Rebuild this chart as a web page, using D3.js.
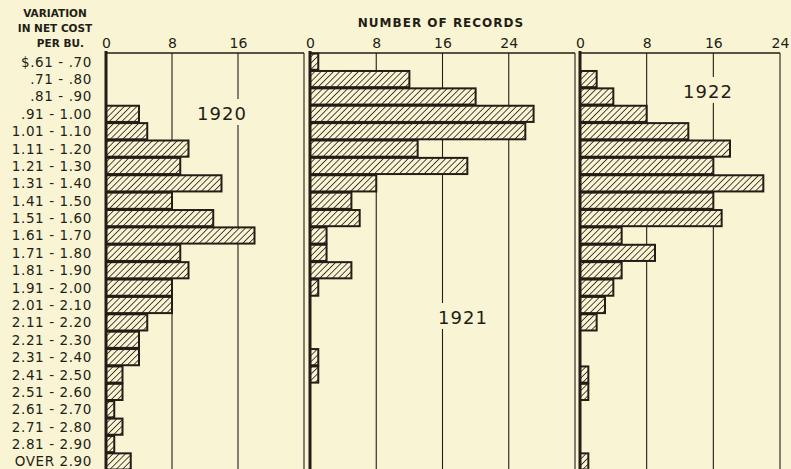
<!DOCTYPE html>
<html>
<head>
<meta charset="utf-8">
<script src="https://cdn.jsdelivr.net/npm/d3@7"></script>
<style>
  body { margin: 0; background: #f9f5d4; }
  svg { display: block; }
  text { font-family: "DejaVu Sans", sans-serif; fill: #231d16; }
</style>
</head>
<body>
<svg id="chart" width="791" height="469"></svg>
<script>
// cost ranges (rows), top to bottom
const ranges = ["$.61 - .70", ".71 - .80", ".81 - .90", ".91 - 1.00", "1.01 - 1.10", "1.11 - 1.20",
  "1.21 - 1.30", "1.31 - 1.40", "1.41 - 1.50", "1.51 - 1.60", "1.61 - 1.70", "1.71 - 1.80",
  "1.81 - 1.90", "1.91 - 2.00", "2.01 - 2.10", "2.11 - 2.20", "2.21 - 2.30", "2.31 - 2.40",
  "2.41 - 2.50", "2.51 - 2.60", "2.61 - 2.70", "2.71 - 2.80", "2.81 - 2.90", "OVER 2.90"];

const records1920 = [0, 0, 0, 4, 5, 10, 9, 14, 8, 13, 18, 9, 10, 8, 8, 5, 4, 4, 2, 2, 1, 2, 1, 3];
const records1921 = [1, 12, 20, 27, 26, 13, 19, 8, 5, 6, 2, 2, 5, 1, 0, 0, 0, 1, 1, 0, 0, 0, 0, 0];
const records1922 = [0, 2, 4, 8, 13, 18, 16, 22, 16, 17, 5, 9, 5, 4, 3, 2, 0, 0, 1, 1, 0, 0, 0, 1];

const years = ["1920", "1921", "1922"];
const gridTicks24 = [8, 16, 24];
const gridTicks32 = [8, 16, 24, 32];
const labels1920 = [0, 8, 16];
const labelsWide = [0, 8, 16, 24];

let ink = "#231d16";
let bg = "#f9f5d4";
let topY = 53, rowH = 17.38;

let svg = d3.select("#chart");

// hatch pattern
let defs = svg.append("defs");
let pat = defs.append("pattern")
    .attr("id", "hatch")
    .attr("patternUnits", "userSpaceOnUse")
    .attr("width", 4.4).attr("height", 4.4)
    .attr("patternTransform", "rotate(45)");
pat.append("rect").attr("width", 4.4).attr("height", 4.4).attr("fill", bg);
pat.append("line").attr("x1", 0).attr("y1", 0).attr("x2", 0).attr("y2", 4.4)
    .attr("stroke", ink).attr("stroke-width", 1.6);

let y = d3.scaleBand()
    .domain(ranges)
    .range([topY, topY + ranges.length * rowH]);

let panels = [
    {data: records1920, year: years[0], max: 24, grid: gridTicks24, labels: labels1920, range: [106, 304], label: [222, 113]},
    {data: records1921, year: years[1], max: 32, grid: gridTicks32, labels: labelsWide, range: [310, 575], label: [463, 317]},
    {data: records1922, year: years[2], max: 24, grid: gridTicks24, labels: labelsWide, range: [580, 780], label: [708, 91]}
];

for (let p of panels) {
    let x = d3.scaleLinear().domain([0, p.max]).range(p.range);
    let g = svg.append("g");

    // grid lines + right border
    g.selectAll("line.grid")
        .data(p.grid)
        .enter().append("line")
        .attr("class", "grid")
        .attr("x1", d => x(d)).attr("x2", d => x(d))
        .attr("y1", topY).attr("y2", 469)
        .attr("stroke", ink)
        .attr("stroke-width", 1.1);

    // top border
    g.append("line")
        .attr("x1", x(0)).attr("x2", x(p.max))
        .attr("y1", topY).attr("y2", topY)
        .attr("stroke", ink).attr("stroke-width", 1.3);

    // tick labels
    let axis = d3.axisTop(x).tickValues(p.labels).tickSize(0).tickPadding(0).tickFormat(d3.format("d"));
    let ax = g.append("g")
        .attr("transform", `translate(0,${topY - 5})`)
        .call(axis);
    ax.select(".domain").remove();
    ax.selectAll("text")
        .style("font-size", "14px")
        .style("font-family", "DejaVu Sans, sans-serif")
        .attr("fill", ink)
        .attr("dy", "0");

    // year label with cut-out behind it
    g.append("rect")
        .attr("x", p.label[0] - 27).attr("y", p.label[1] - 14)
        .attr("width", 54).attr("height", 26)
        .attr("fill", bg);
    g.append("text")
        .attr("x", p.label[0]).attr("y", p.label[1] + 7)
        .attr("text-anchor", "middle")
        .style("font-size", "18px")
        .style("letter-spacing", "1px")
        .text(p.year);

    // bars
    g.selectAll("rect.bar")
        .data(p.data.map((v, i) => ({key: ranges[i], v: v})).filter(d => d.v > 0))
        .enter().append("rect")
        .attr("class", "bar")
        .attr("x", x(0))
        .attr("y", d => y(d.key) + 0.6)
        .attr("width", d => x(d.v) - x(0))
        .attr("height", y.bandwidth() - 1.2)
        .attr("fill", "url(#hatch)")
        .attr("stroke", ink)
        .attr("stroke-width", 2);

    // zero axis
    g.append("line")
        .attr("x1", x(0)).attr("x2", x(0))
        .attr("y1", topY - 2).attr("y2", 469)
        .attr("stroke", ink).attr("stroke-width", 3);
}

// row labels
svg.append("g").selectAll("text")
    .data(ranges)
    .enter().append("text")
    .attr("x", 92)
    .attr("y", d => y(d) + y.bandwidth() / 2 + 5)
    .attr("text-anchor", "end")
    .style("font-size", "13.5px")
    .style("letter-spacing", "0.6px")
    .text(d => d);

// header text
let head = svg.append("g").style("font-size", "10.5px").style("font-weight", "bold");
head.append("text").attr("x", 55).attr("y", 17).attr("text-anchor", "middle").text("VARIATION");
head.append("text").attr("x", 55).attr("y", 32).attr("text-anchor", "middle").text("IN NET COST");
head.append("text").attr("x", 84).attr("y", 47).attr("text-anchor", "end").text("PER BU.");
head.append("text").attr("x", 441).attr("y", 27).attr("text-anchor", "middle")
    .style("font-size", "12px").style("letter-spacing", "1px").text("NUMBER OF RECORDS");
</script>
</body>
</html>
